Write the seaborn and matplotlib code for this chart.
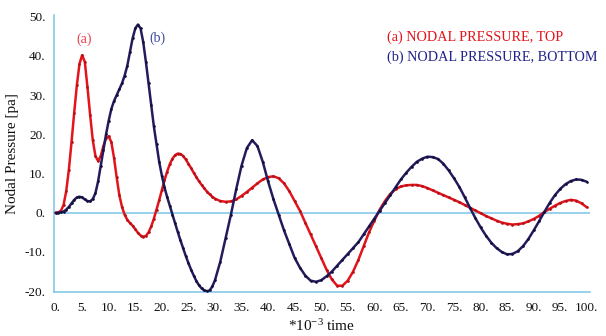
import numpy as np
import pandas as pd
import matplotlib
matplotlib.use("Agg")
import matplotlib.pyplot as plt
import seaborn as sns

# time axis (*10^-3): step 0.5 up to 29.5, then step 1
time = list(np.arange(0, 30, 0.5)) + list(np.arange(30, 101, 1))

top = [  # (a) nodal pressure, top
    0, 0.1, 0.5, 2, 5.5, 11, 18, 25.5, 32.5, 38,
    40.2, 38.5, 32, 25, 18.5, 14.5, 13.2, 14.5, 17, 19,
    19.5, 18, 14, 9, 4.5, 1.5, -0.5, -1.8, -2.6, -3.3,
    -4.2, -5.1, -5.8, -6.1, -5.9, -5, -3.5, -1.5, 0.8, 3.2,
    5.8, 8.3, 10.5, 12.4, 13.8, 14.7, 15.1, 15, 14.5, 13.6,
    12.5, 11.4, 10.2, 9.1, 8.0, 7.1, 6.2, 5.4, 4.7, 4.1,
    3.6, 3.0, 2.8, 2.9, 3.4, 4.3, 5.3, 6.4, 7.5, 8.5,
    9.1, 9.3, 8.8, 7.5, 5.5, 3, 0.5, -2.5, -5.5, -8.5,
    -11.5, -14.5, -17, -18.6, -18.6, -17.3, -15, -12, -8.5, -5,
    -2, 0.8, 3, 4.8, 6, 6.7, 7.0, 7.1, 7.1, 6.8,
    6.3, 5.7, 5.1, 4.5, 3.9, 3.3, 2.7, 2.0, 1.3, 0.6,
    -0.1, -0.8, -1.4, -2.0, -2.5, -2.8, -3.0, -2.9, -2.7, -2.2,
    -1.6, -0.8, 0.2, 1.0, 1.8, 2.5, 3.0, 3.3, 3.1, 2.4,
    1.4,
]

bottom = [  # (b) nodal pressure, bottom
    0, 0, 0.1, 0.3, 0.8, 1.5, 2.4, 3.3, 3.9, 4.1,
    3.9, 3.4, 3.0, 2.9, 3.5, 5, 8, 12, 16, 20,
    23.5, 26.5, 28.5, 30, 31.5, 33, 35, 37.5, 41, 44.5,
    47, 48, 47, 43.5, 38.5, 33, 27.5, 22, 17.5, 13,
    9.5, 6.5, 4, 1.8, -0.5, -2.7, -4.9, -7, -9, -11,
    -12.8, -14.5, -16, -17.4, -18.5, -19.3, -19.8, -20, -19.8, -18.8,
    -17.2, -12.5, -6.5, -0.5, 6, 12, 16.5, 18.5, 17, 13,
    8, 3.5, -0.5, -4.5, -8, -11.5, -14, -16, -17.3, -17.6,
    -17.2, -16.2, -15, -13.5, -12, -10.5, -9, -7.5, -5.5, -3.5,
    -1.5, 0.5, 2.5, 4.5, 6.5, 8.5, 10.2, 11.7, 13, 13.8,
    14.3, 14.2, 13.7, 12.5, 10.8, 8.8, 6.6, 4.0, 1.3, -1.3,
    -3.7, -5.8, -7.6, -9.0, -10.0, -10.6, -10.5, -9.8, -8.5, -6.7,
    -4.5, -2.2, 0.2, 2.5, 4.5, 6.1, 7.3, 8.1, 8.5, 8.4,
    7.9,
]

legend_labels = ["(a) NODAL PRESSURE, TOP", "(b) NODAL PRESSURE, BOTTOM"]
xticks = list(range(0, 101, 5))
yticks = list(range(-20, 51, 10))

RED = "#e3141b"
NAVY = "#231c5c"
AXC = "#7cc3e6"

sns.set_style("white")
plt.rcParams["font.family"] = ["Liberation Serif", "DejaVu Serif"]
plt.rcParams["mathtext.fontset"] = "custom"
plt.rcParams["mathtext.rm"] = "Liberation Serif"
plt.rcParams["mathtext.it"] = "Liberation Serif:italic"

fig = plt.figure(figsize=(6.06, 3.36), dpi=100)
ax = fig.add_axes([0.0891, 0.131, 0.8845, 0.824])

ax.axhline(0, color=AXC, lw=1.1, zorder=1)

df_top = pd.DataFrame({"t": time, "p": top})
df_bot = pd.DataFrame({"t": time, "p": bottom})
sns.lineplot(data=df_top, x="t", y="p", ax=ax, color=RED, lw=1.8,
             marker="o", markersize=1.9, markeredgewidth=0,
             markerfacecolor="#b01018", sort=False, zorder=3)
sns.lineplot(data=df_bot, x="t", y="p", ax=ax, color=NAVY, lw=1.8,
             marker="o", markersize=1.9, markeredgewidth=0,
             markerfacecolor="#120e3a", sort=False, zorder=4)

ax.set_xlim(-0.3, 100.6)
ax.set_ylim(-20.2, 50.4)
ax.set_xticks(xticks)
ax.set_xticklabels([f"{v}." for v in xticks])
ax.set_yticks(yticks)
ax.set_yticklabels([f"{v}." for v in yticks])
ax.set_yticks(list(range(-15, 50, 10)), minor=True)

for s in ["top", "right"]:
    ax.spines[s].set_visible(False)
for s in ["left", "bottom"]:
    ax.spines[s].set_color(AXC)
    ax.spines[s].set_linewidth(1.1)

ax.tick_params(axis="both", which="both", direction="out", color=AXC,
               width=1, labelsize=9.5, labelcolor="#111111")
ax.tick_params(axis="both", which="major", length=4)
ax.tick_params(axis="y", which="minor", length=3)
ax.tick_params(axis="x", pad=3)
ax.tick_params(axis="y", pad=2)

ax.set_xlabel(r"*10$^{\mathrm{-3}}$ time", fontsize=11, color="#111111", labelpad=3)
ax.set_ylabel("Nodal Pressure [pa]", fontsize=11, color="#111111", labelpad=4)

ax.text(5.3, 42.5, "(a)", color="#e8404a", fontsize=10, ha="center", va="bottom")
ax.text(19.2, 42.7, "(b)", color="#3b4a9e", fontsize=10, ha="center", va="bottom")

fig.text(0.638, 0.888, legend_labels[0], color=RED, fontsize=10.2, va="center", ha="left")
fig.text(0.638, 0.829, legend_labels[1], color="#22238a", fontsize=10.2, va="center", ha="left")

fig.savefig("out.png", dpi=100, facecolor="white")
